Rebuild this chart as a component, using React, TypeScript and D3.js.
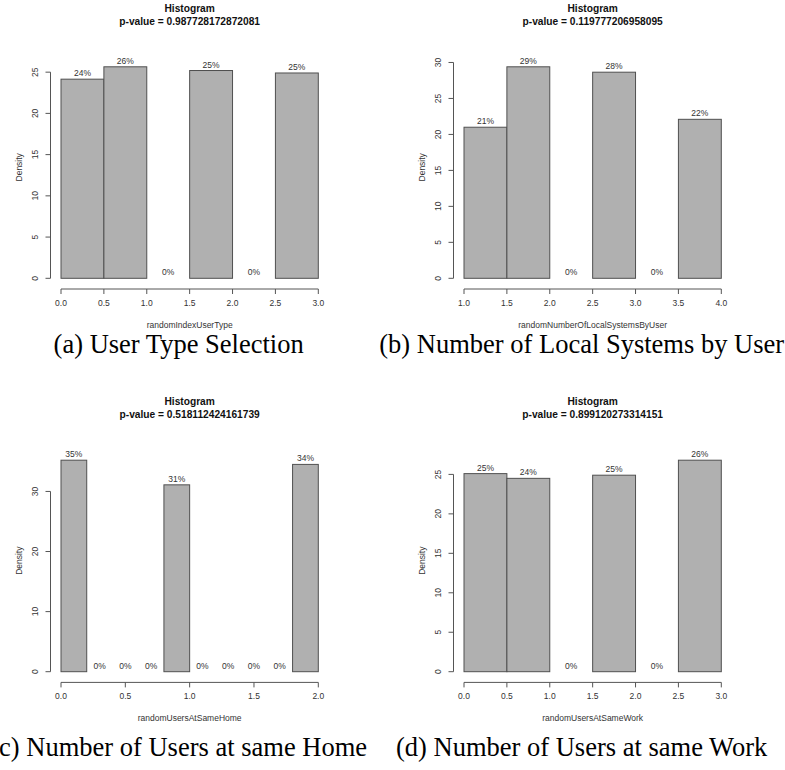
import React from 'react';
import * as d3 from 'd3';

// bin edges, densities and percent labels
const breaksA = [0, 0.5, 1, 1.5, 2, 2.5, 3];
const densityA = [24.15, 25.65, 0, 25.2, 0, 24.9];
const labelsA = ['24%', '26%', '0%', '25%', '0%', '25%'];

const breaksB = [1, 1.5, 2, 2.5, 3, 3.5, 4];
const densityB = [21.0, 29.4, 0, 28.65, 0, 22.1];
const labelsB = ['21%', '29%', '0%', '28%', '0%', '22%'];

const breaksC = [0, 0.2, 0.4, 0.6, 0.8, 1, 1.2, 1.4, 1.6, 1.8, 2];
const densityC = [35.2, 0, 0, 0, 31.1, 0, 0, 0, 0, 34.5];
const labelsC = ['35%', '0%', '0%', '0%', '31%', '0%', '0%', '0%', '0%', '34%'];

const breaksD = [0, 0.5, 1, 1.5, 2, 2.5, 3];
const densityD = [25.1, 24.5, 0, 24.9, 0, 26.8];
const labelsD = ['25%', '24%', '0%', '25%', '0%', '26%'];

const pValues = ['0.987728172872081', '0.119777206958095', '0.518112424161739', '0.899120273314151'];
const xLabels = ['randomIndexUserType', 'randomNumberOfLocalSystemsByUser', 'randomUsersAtSameHome', 'randomUsersAtSameWork'];
const captions = ['(a) User Type Selection', '(b) Number of Local Systems by User', '(c) Number of Users at same Home', '(d) Number of Users at same Work'];

const W = 785;
const H = 770;
const SANS = '"Liberation Sans", Arial, Helvetica, sans-serif';
const SERIF = '"Liberation Serif", "Times New Roman", serif';

// layout inside one panel
const x0 = 61;
const x1 = 318.3;
const base = 278.3;
const maxBarH = 211.5;

type PanelProps = {
  dx: number;
  dy: number;
  breaks: number[];
  density: number[];
  labels: string[];
  pValue: string;
  xLabel: string;
  caption: string;
  captionY: number;
};

const Panel: React.FC<PanelProps> = ({ dx, dy, breaks, density, labels, pValue, xLabel, caption, captionY }) => {
  const x = d3.scaleLinear().domain([breaks[0], breaks[breaks.length - 1]]).range([x0, x1]);
  const ymax = d3.max(density) as number;
  const y = d3.scaleLinear().domain([0, ymax]).range([base, base - maxBarH]);
  // R-style: ticks over the 4%-extended range
  const yTicks = d3.ticks(-0.04 * ymax, 1.04 * ymax, 5).filter((t) => t >= 0);
  const xTicks = x.ticks(6);
  const axisX = x0 - 10.5;
  const axisY = base + 10.7;
  const fmt = d3.format('.1f');
  const mid = (x0 + x1) / 2;

  return (
    <g transform={`translate(${dx},${dy})`}>
      <text x={mid} y={12} textAnchor="middle" fontFamily={SANS} fontWeight="bold" fontSize={10.2} fill="#111">
        Histogram
      </text>
      <text x={mid} y={24.5} textAnchor="middle" fontFamily={SANS} fontWeight="bold" fontSize={10.2} fill="#111">
        {`p-value = ${pValue}`}
      </text>

      {density.map((d, i) => (
        <rect
          key={i}
          x={x(breaks[i])}
          y={y(d)}
          width={x(breaks[i + 1]) - x(breaks[i])}
          height={base - y(d)}
          fill="#b0b0b0"
          stroke="#505050"
          strokeWidth={1}
        />
      ))}
      {density.map((d, i) => (
        <text
          key={`l${i}`}
          x={(x(breaks[i]) + x(breaks[i + 1])) / 2}
          y={y(d) - 3}
          textAnchor="middle"
          fontFamily={SANS}
          fontSize={8.5}
          fill="#333"
        >
          {labels[i]}
        </text>
      ))}

      {/* y axis */}
      <line x1={axisX} x2={axisX} y1={y(yTicks[0])} y2={y(yTicks[yTicks.length - 1])} stroke="#555" />
      {yTicks.map((t) => (
        <g key={`y${t}`}>
          <line x1={axisX - 5} x2={axisX} y1={y(t)} y2={y(t)} stroke="#555" />
          <text
            transform={`translate(${axisX - 12.3},${y(t)}) rotate(-90)`}
            textAnchor="middle"
            fontFamily={SANS}
            fontSize={8.5}
            fill="#333"
          >
            {t}
          </text>
        </g>
      ))}
      <text
        transform={`translate(21.5,${base - 111}) rotate(-90)`}
        textAnchor="middle"
        fontFamily={SANS}
        fontSize={8.5}
        fill="#333"
      >
        Density
      </text>

      {/* x axis */}
      <line x1={x(xTicks[0])} x2={x(xTicks[xTicks.length - 1])} y1={axisY} y2={axisY} stroke="#555" />
      {xTicks.map((t) => (
        <g key={`x${t}`}>
          <line x1={x(t)} x2={x(t)} y1={axisY} y2={axisY + 5} stroke="#555" />
          <text x={x(t)} y={axisY + 16.7} textAnchor="middle" fontFamily={SANS} fontSize={8.5} fill="#333">
            {fmt(t)}
          </text>
        </g>
      ))}
      <text x={mid} y={base + 49.2} textAnchor="middle" fontFamily={SANS} fontSize={8.5} fill="#333">
        {xLabel}
      </text>

      <text x={mid - 11} y={captionY} textAnchor="middle" fontFamily={SERIF} fontSize={26.5} fill="#000">
        {caption}
      </text>
    </g>
  );
};

export default function App() {
  return (
    <svg width={W} height={H} style={{ position: 'absolute', left: 0, top: 0, background: '#fff' }}>
      <Panel dx={0} dy={0} breaks={breaksA} density={densityA} labels={labelsA} pValue={pValues[0]} xLabel={xLabels[0]} caption={captions[0]} captionY={353} />
      <Panel dx={403} dy={0} breaks={breaksB} density={densityB} labels={labelsB} pValue={pValues[1]} xLabel={xLabels[1]} caption={captions[1]} captionY={353} />
      <Panel dx={0} dy={393.4} breaks={breaksC} density={densityC} labels={labelsC} pValue={pValues[2]} xLabel={xLabels[2]} caption={captions[2]} captionY={362.6} />
      <Panel dx={403} dy={393.4} breaks={breaksD} density={densityD} labels={labelsD} pValue={pValues[3]} xLabel={xLabels[3]} caption={captions[3]} captionY={362.6} />
    </svg>
  );
}
